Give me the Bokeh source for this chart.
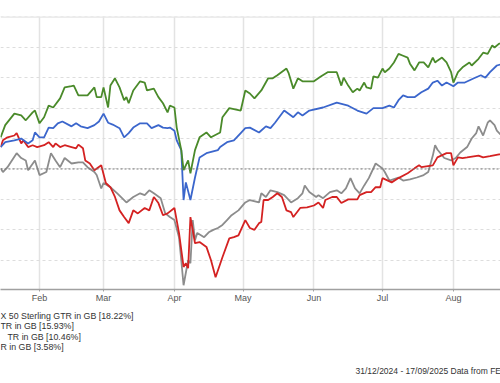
import pandas as pd
from bokeh.plotting import figure
from bokeh.layouts import column
from bokeh.models import Range1d, FixedTicker, DatetimeTickFormatter, Span
from bokeh.core.properties import value
from bokeh.embed import file_html
from bokeh.resources import INLINE

BASE = pd.Timestamp("2024-12-31")

# day offsets from 31/12/2024 and cumulative total return (%)
green_days = [15, 17, 21, 24, 26, 29, 30, 32, 34, 36, 38, 41, 43, 46, 47, 49, 53, 56, 57, 59, 60, 62, 63, 65, 67, 69, 70, 71, 73, 76, 78, 79, 82, 84, 86, 88, 89, 91, 92, 94, 95, 97, 98, 100, 102, 105, 107, 111, 112, 115, 120, 122, 124, 126, 129, 132, 134, 136, 140, 141, 143, 145, 147, 152, 155, 158, 162, 164, 165, 167, 169, 171, 172, 174, 175, 177, 178, 180, 182, 183, 185, 187, 189, 191, 193, 194, 196, 198, 200, 202, 204, 205, 206, 208, 210, 212, 213, 215, 217, 220, 221, 224, 226, 228, 230, 231, 233, 234]
green_vals = [5.2, 7.2, 9.1, 8.8, 8.0, 9.3, 9.6, 7.5, 8.5, 10.4, 10.1, 11.6, 13.4, 13.6, 13.7, 12.1, 12.1, 13.4, 11.8, 11.8, 13.4, 10.1, 13.7, 14.9, 13.4, 11.3, 11.8, 10.8, 12.9, 14.4, 14.2, 12.9, 13.2, 11.8, 10.8, 9.3, 10.4, 10.1, 6.8, 3.1, -0.2, 1.4, -0.7, 3.1, 5.2, 6.0, 5.2, 6.0, 8.5, 10.0, 9.6, 12.9, 12.4, 11.6, 12.9, 14.9, 14.9, 15.4, 16.5, 15.7, 13.2, 14.9, 14.4, 14.4, 15.2, 15.9, 15.9, 13.7, 15.0, 13.7, 12.6, 13.2, 12.9, 14.2, 13.4, 13.2, 15.2, 15.0, 16.5, 15.9, 16.5, 17.5, 18.9, 18.6, 18.3, 17.3, 16.2, 17.5, 17.5, 16.7, 18.3, 17.5, 17.8, 18.3, 17.5, 15.9, 14.2, 15.9, 16.7, 17.5, 17.0, 18.1, 19.1, 18.9, 20.3, 19.95, 20.6, 20.6]

blue_days = [15, 17, 21, 24, 27, 29, 30, 32, 34, 36, 38, 40, 42, 46, 48, 50, 53, 56, 58, 60, 62, 64, 67, 69, 71, 73, 76, 79, 81, 84, 86, 88, 89, 91, 92, 94, 95, 96, 98, 100, 102, 105, 110, 111, 114, 117, 120, 122, 124, 128, 131, 133, 135, 139, 143, 145, 147, 150, 156, 162, 167, 171, 175, 178, 182, 185, 187, 189, 191, 193, 196, 199, 202, 204, 206, 208, 210, 213, 215, 218, 222, 225, 227, 229, 232, 234]
blue_vals = [3.6, 4.4, 4.7, 5.0, 4.2, 4.7, 6.0, 5.2, 5.2, 6.8, 6.7, 7.5, 7.8, 7.0, 7.5, 7.0, 6.7, 7.2, 7.8, 9.1, 7.6, 7.3, 6.7, 5.2, 5.9, 6.8, 7.5, 7.5, 6.7, 7.2, 6.8, 6.7, 6.8, 6.3, 4.7, 3.1, -5.1, -2.2, -5.1, -1.4, 1.9, 2.6, 3.1, 3.6, 4.4, 4.7, 5.9, 6.7, 6.8, 6.0, 7.0, 6.7, 7.6, 9.6, 8.5, 9.3, 8.8, 9.6, 10.1, 10.9, 10.4, 9.6, 9.1, 10.0, 10.0, 10.4, 10.1, 11.3, 12.1, 11.8, 11.8, 12.6, 13.2, 14.2, 14.5, 13.7, 14.2, 13.6, 14.2, 14.2, 14.9, 15.4, 15.0, 15.9, 17.0, 17.2]

grey_days = [15, 16, 18, 22, 24, 26, 27, 30, 32, 35, 37, 39, 41, 43, 46, 49, 51, 53, 56, 57, 59, 60, 63, 66, 70, 73, 76, 78, 80, 82, 85, 87, 89, 91, 93, 94, 95, 97, 98, 99, 100, 101, 104, 106, 108, 110, 112, 114, 116, 119, 122, 124, 128, 129, 131, 133, 136, 139, 142, 145, 147, 148, 150, 153, 154, 156, 159, 162, 164, 166, 168, 170, 172, 174, 176, 179, 182, 183, 185, 189, 191, 194, 197, 200, 202, 204, 205, 206, 209, 212, 214, 216, 219, 221, 223, 224, 226, 228, 229, 231, 232, 234]
grey_vals = [0.1, -0.5, 0.3, 2.6, 1.8, 1.4, -0.2, 1.4, -1.0, -0.5, 2.6, 1.4, 0.3, 1.8, 0.9, 1.1, 1.1, 0.3, -0.5, -1.0, -3.2, -2.3, -3.0, -4.0, -5.5, -4.6, -4.0, -4.3, -3.5, -4.0, -4.8, -7.3, -7.9, -8.4, -11.2, -15.0, -19.1, -15.0, -15.5, -8.4, -11.7, -10.5, -11.2, -10.4, -10.0, -9.7, -9.2, -8.4, -7.6, -6.8, -5.5, -5.1, -5.5, -4.0, -4.6, -3.5, -3.8, -4.3, -5.5, -4.8, -4.0, -2.7, -3.8, -4.6, -4.3, -4.8, -3.8, -3.5, -4.0, -3.2, -1.5, -3.2, -4.0, -2.7, -1.5, 0.9, 0.1, -0.5, -1.9, -1.4, -1.9, -1.7, -1.4, -1.0, -0.5, 2.2, 3.9, 3.2, 1.8, 1.4, 1.8, 2.7, 3.6, 5.0, 5.9, 7.0, 5.5, 7.6, 8.0, 7.2, 6.3, 5.5]

red_days = [15, 16, 18, 21, 22, 24, 25, 27, 29, 31, 34, 36, 38, 39, 41, 43, 46, 48, 49, 51, 52, 54, 56, 59, 61, 63, 65, 67, 69, 71, 73, 75, 78, 80, 82, 84, 86, 88, 91, 93, 95, 96, 97, 98, 99, 100, 102, 105, 107, 109, 112, 115, 117, 119, 122, 124, 126, 128, 129, 130, 132, 134, 136, 138, 140, 142, 143, 146, 149, 152, 154, 156, 157, 160, 162, 164, 167, 171, 172, 175, 177, 179, 181, 182, 186, 189, 193, 196, 198, 199, 204, 206, 210, 212, 213, 215, 217, 219, 224, 226, 229, 233, 234]
red_vals = [3.6, 4.7, 5.2, 5.5, 5.9, 4.2, 4.7, 3.6, 3.9, 3.6, 3.9, 4.4, 3.6, 4.2, 3.6, 3.9, 3.6, 3.4, 4.0, 3.4, 1.4, 0.9, -0.2, 0.6, -2.3, -3.0, -4.6, -6.8, -7.9, -8.9, -6.8, -7.3, -6.4, -6.8, -4.6, -5.6, -7.6, -7.3, -6.4, -10.5, -16.1, -15.5, -16.3, -7.9, -10.0, -12.2, -12.0, -12.8, -15.0, -17.8, -14.5, -11.4, -11.2, -10.9, -8.4, -9.7, -10.0, -8.9, -8.7, -5.1, -5.1, -4.6, -4.0, -4.6, -6.8, -7.1, -7.9, -6.4, -6.3, -6.0, -5.5, -6.4, -5.1, -4.6, -4.6, -5.6, -5.0, -5.0, -4.3, -3.8, -3.8, -3.0, -3.0, -1.5, -2.2, -1.5, -0.7, 0.1, 0.6, 0.3, 0.6, 1.9, 2.6, 2.6, 0.6, 1.9, 1.8, 1.9, 2.2, 1.9, 2.1, 2.4, 2.4]

legend_texts = ["X 50 Sterling GTR in GB [18.22%]", "TR in GB [15.93%]", "TR in GB [10.46%]", "R in GB [3.58%]"]
footer_text = "31/12/2024 - 17/09/2025 Data from FE"
month_ticks = ["2025-02-01", "2025-03-01", "2025-04-01", "2025-05-01", "2025-06-01", "2025-07-01", "2025-08-01"]
y_ticks = [-20, -15, -10, -5, 0, 5, 10, 15, 20, 25]

def to_dt(days):
    return [BASE + pd.Timedelta(days=d) for d in days]

x_start = BASE + pd.Timedelta(days=14.94)
x_end = BASE + pd.Timedelta(days=233.6)

TOP_H = 305
p = figure(width=500, height=TOP_H, output_backend="svg", toolbar_location=None,
           x_axis_type="datetime", x_range=Range1d(x_start, x_end),
           y_range=Range1d(-19.8, 25.05),
           min_border_left=0, min_border_right=0, min_border_top=16, min_border_bottom=16)
p.outline_line_color = None
p.background_fill_color = "white"
p.border_fill_color = "white"

p.yaxis.visible = False
p.yaxis.ticker = FixedTicker(ticks=y_ticks)
p.ygrid.grid_line_color = "#dddddd"
p.ygrid.grid_line_dash = "3 3"
p.ygrid.grid_line_width = 1

tick_ms = [pd.Timestamp(t).value // 10**6 for t in month_ticks]
p.xaxis.ticker = FixedTicker(ticks=tick_ms)
p.xaxis.formatter = DatetimeTickFormatter(days="%b", months="%b")
p.xgrid.grid_line_color = "#e3e3e3"
p.xgrid.grid_line_width = 1.5
p.xaxis.axis_line_color = "#a0a0a0"
p.xaxis.axis_line_width = 1.5
p.xaxis.major_tick_line_color = "#a0a0a0"
p.xaxis.major_tick_out = 2
p.xaxis.major_tick_in = 0
p.xaxis.minor_tick_line_color = None
p.xaxis.major_label_standoff = 1
p.xaxis.major_label_text_font = "Liberation Sans"
p.xaxis.major_label_text_font_size = "9px"
p.xaxis.major_label_text_color = "#555555"

p.add_layout(Span(location=25, dimension="width", line_color="#e6e6e6", line_width=2))
p.add_layout(Span(location=0, dimension="width", line_color="#777777", line_width=1, line_dash="2 2"))

p.line(to_dt(grey_days), grey_vals, line_color="#8c8c8c", line_width=1.8)
p.line(to_dt(red_days), red_vals, line_color="#d42222", line_width=1.8)
p.line(to_dt(blue_days), blue_vals, line_color="#3b66cc", line_width=1.8)
p.line(to_dt(green_days), green_vals, line_color="#4a8a2a", line_width=1.8)

# lower text panel: coordinates in page pixels
q = figure(width=500, height=383 - TOP_H, output_backend="svg", toolbar_location=None,
           x_range=Range1d(0, 500), y_range=Range1d(383, TOP_H),
           x_axis_location=None, y_axis_location=None,
           min_border_left=0, min_border_right=0, min_border_top=0, min_border_bottom=0)
q.outline_line_color = None
q.xgrid.visible = False
q.ygrid.visible = False
q.background_fill_color = "white"
q.border_fill_color = "white"

legend_x = [0, 0, 7, 0]
legend_y = [315, 325.5, 336, 346.5]
q.text(x=legend_x, y=legend_y, text=legend_texts, text_font=value("Liberation Sans"),
       text_font_size="8.8px", text_color="#333333", text_baseline="middle", text_align="left")
q.text(x=[355], y=[370], text=[footer_text], text_font=value("Liberation Sans"),
       text_font_size="8.5px", text_color="#333333", text_baseline="middle", text_align="left")

open("out.html", "w").write(file_html(column(p, q, spacing=0), INLINE))
